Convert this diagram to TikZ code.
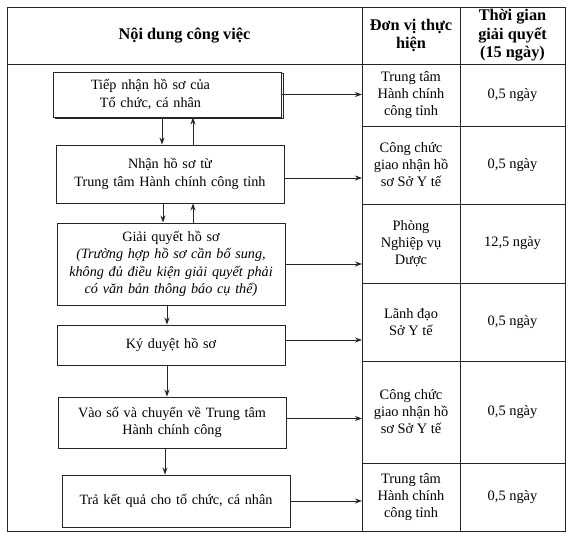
\documentclass[tikz,border=0pt]{standalone}
\usepackage{fontspec}
\setmainfont{Liberation Serif}
\usetikzlibrary{shadows,arrows.meta}

\begin{document}
\begin{tikzpicture}[x=1pt, y=-1pt,
  cell/.style={draw=black!85, line width=0.8pt, anchor=north west, inner sep=0pt, outer sep=0pt, align=center, font=\fontsize{14.4}{17}\selectfont},
  head/.style={cell, font=\fontsize{16.3}{18.5}\selectfont\bfseries},
  stepbox/.style={draw=black!85, line width=0.9pt, fill=white, align=center, inner sep=0pt, text width=228pt, font=\fontsize{14.2}{17.5}\selectfont},
  flow/.style={->, line width=0.9pt, draw=black!85},
  >={Stealth[length=7pt, width=5pt]}
]
  \useasboundingbox (0,0) rectangle (576,543);

  % table
  \node[head, minimum width=355pt, minimum height=57pt] (work) at (7,7) {Nội dung công việc};
  \node[head, minimum width=98pt, minimum height=57pt] (unit) at (362,7) {Đơn vị thực\\hiện};
  \node[head, minimum width=105pt, minimum height=57pt] (time) at (460,7) {Thời gian\\giải quyết\\(15 ngày)};
  \node[cell, minimum width=355pt, minimum height=467pt] (steps) at (7,64) {};

  \node[cell, minimum width=98pt, minimum height=62pt] (u1) at (362,64) {Trung tâm\\Hành chính\\công tỉnh};
  \node[cell, minimum width=98pt, minimum height=78pt] (u2) at (362,126) {Công chức\\giao nhận hồ\\sơ Sở Y tế};
  \node[cell, minimum width=98pt, minimum height=79pt] (u3) at (362,204) {Phòng\\Nghiệp vụ\\Dược};
  \node[cell, minimum width=98pt, minimum height=78pt] (u4) at (362,283) {Lãnh đạo\\Sở Y tế};
  \node[cell, minimum width=98pt, minimum height=102pt] (u5) at (362,361) {Công chức\\giao nhận hồ\\sơ Sở Y tế};
  \node[cell, minimum width=98pt, minimum height=68pt] (u6) at (362,463) {Trung tâm\\Hành chính\\công tỉnh};

  \node[cell, minimum width=105pt, minimum height=62pt] (t1) at (460,64) {0,5 ngày};
  \node[cell, minimum width=105pt, minimum height=78pt] (t2) at (460,126) {0,5 ngày};
  \node[cell, minimum width=105pt, minimum height=79pt] (t3) at (460,204) {12,5 ngày};
  \node[cell, minimum width=105pt, minimum height=78pt] (t4) at (460,283) {0,5 ngày};
  \node[cell, minimum width=105pt, minimum height=102pt] (t5) at (460,361) {0,5 ngày};
  \node[cell, minimum width=105pt, minimum height=68pt] (t6) at (460,463) {0,5 ngày};

  % steps
  \node[stepbox, minimum height=45pt, copy shadow={shadow xshift=1.5pt, shadow yshift=-1.8pt}] (b1) at (167.5,94.5) {Tiếp nhận hồ sơ của\rule{34pt}{0pt}\\Tổ chức, cá nhân\rule{34pt}{0pt}};
  \node[stepbox, minimum height=58pt] (b2) at (170,174) {Nhận hồ sơ từ\\Trung tâm Hành chính công tỉnh};
  \node[stepbox, minimum height=82pt] (b3) at (171,264) {Giải quyết hồ sơ\\\textit{(Trường hợp hồ sơ cần bổ sung,}\\\textit{không đủ điều kiện giải quyết phải}\\\textit{có văn bản thông báo cụ thể)}};
  \node[stepbox, minimum height=40pt] (b4) at (171,345) {Ký duyệt hồ sơ};
  \node[stepbox, minimum height=51pt] (b5) at (172,422.5) {Vào số và chuyển về Trung tâm\\Hành chính công};
  \node[stepbox, minimum height=52pt] (b6) at (176,501) {Trả kết quả cho tổ chức, cá nhân};

  \draw[flow] ([xshift=-5.5pt]b1.south) -- ([xshift=-5.5pt]b1.south |- b2.north);
  \draw[flow] ([xshift=25.5pt]b1.south |- b2.north) -- ([xshift=25.5pt]b1.south);
  \draw[flow] ([xshift=-7pt]b2.south) -- ([xshift=-7pt]b2.south |- b3.north);
  \draw[flow] ([xshift=23pt]b2.south |- b3.north) -- ([xshift=23pt]b2.south);
  \draw[flow] ([xshift=-4pt]b3.south) -- ([xshift=-4pt]b3.south |- b4.north);
  \draw[flow] ([xshift=-4pt]b4.south) -- ([xshift=-4pt]b4.south |- b5.north);
  \draw[flow] ([xshift=-7pt]b5.south) -- ([xshift=-7pt]b5.south |- b6.north);

  \draw[flow] (b1.east) -- (b1.east -| u1.west);
  \draw[flow] ([yshift=-4pt]b2.east) -- ([yshift=-4pt]b2.east -| u2.west);
  \draw[flow] (b3.east) -- (b3.east -| u3.west);
  \draw[flow] ([yshift=5pt]b4.east) -- ([yshift=5pt]b4.east -| u4.west);
  \draw[flow] ([yshift=4pt]b5.east) -- ([yshift=4pt]b5.east -| u5.west);
  \draw[flow] (b6.east) -- (b6.east -| u6.west);
\end{tikzpicture}
\end{document}
